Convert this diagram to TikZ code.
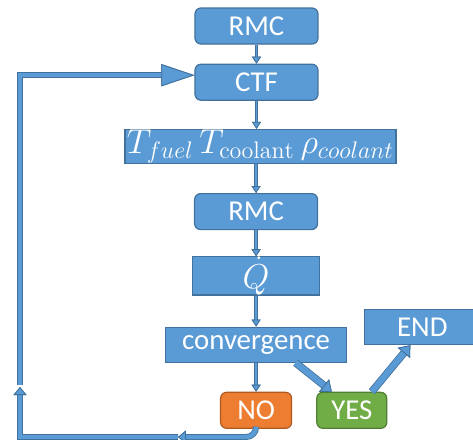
\documentclass[tikz,border=0pt]{standalone}
\usepackage{fontspec}
\setmainfont{Carlito}
\setmathrm{Latin Modern Roman}
\usepackage{tikz}
\usetikzlibrary{arrows.meta, positioning}
\definecolor{flowblue}{HTML}{5B9BD5}
\definecolor{edgeblue}{HTML}{41719C}
\definecolor{noorange}{HTML}{ED7D31}
\definecolor{noedge}{HTML}{AE5A21}
\definecolor{yesgreen}{HTML}{70AD47}
\definecolor{yesedge}{HTML}{507E32}
\tikzset{
  box/.style={rectangle, draw=edgeblue, fill=flowblue, text=white, align=center, minimum height=17.5pt, font=\Large, inner sep=1pt, line width=0.6pt},
  roundbox/.style={box, rounded corners=3pt, minimum height=18pt},
  nobox/.style={roundbox, draw=noedge, fill=noorange},
  yesbox/.style={roundbox, draw=yesedge, fill=yesgreen},
  arrow/.style={draw=flowblue, line width=0.9pt, -{Triangle[length=3.5pt, width=4.5pt, color=edgeblue, fill=flowblue, line width=0.4pt]},
    preaction={draw=edgeblue, line width=1.7pt, -{Triangle[length=3.5pt, width=4.5pt, color=edgeblue, fill=flowblue, line width=0.4pt]}}},
  fatarrow/.style={draw=flowblue, line width=3pt, -{Triangle[length=5pt, width=8pt, color=edgeblue, fill=flowblue, line width=0.4pt]},
    preaction={draw=edgeblue, line width=3.8pt, -{Triangle[length=5pt, width=8pt, color=edgeblue, fill=flowblue, line width=0.4pt]}}},
  looparrow/.style={draw=flowblue, line width=2.2pt, -{Triangle[length=4pt, width=6.5pt, color=edgeblue, fill=flowblue, line width=0.4pt]},
    preaction={draw=edgeblue, line width=3pt, -{Triangle[length=4pt, width=6.5pt, color=edgeblue, fill=flowblue, line width=0.4pt]}}},
  bigarrow/.style={draw=flowblue, line width=2.2pt, -{Triangle[length=16.5pt, width=11pt, color=edgeblue, fill=flowblue, line width=0.4pt]},
    preaction={draw=edgeblue, line width=3pt, -{Triangle[length=16.5pt, width=11pt, color=edgeblue, fill=flowblue, line width=0.4pt]}}},
}
\begin{document}
\begin{tikzpicture}[x=0.5pt, y=-0.5pt]
  \useasboundingbox (0,0) rectangle (473,440);
  \node[roundbox, minimum width=61.5pt] (rmc) at (256.5,26) {RMC};
  \node[roundbox, minimum width=61.5pt, below=9.5pt of rmc] (ctf) {CTF};
  \node[box, minimum width=132pt, minimum height=17pt, font=\LARGE, inner ysep=0pt, below=14pt of ctf, xshift=2pt] (fields) {$T_{fuel}\,T_{\mathrm{coolant}}\,\rho_{coolant}$};
  \node[roundbox, minimum width=61.5pt, below=14.5pt of fields, xshift=-2.2pt] (rmcb) {RMC};
  \node[box, minimum width=63.5pt, font=\LARGE, inner ysep=0pt, below=13pt of rmcb] (qdot) {$\dot{Q}$};
  \node[box, minimum width=90.5pt, below=15.5pt of qdot] (conv) {convergence};
  \node[box, minimum width=57.5pt, right=8.5pt of conv, yshift=8.75pt] (end) {END};
  \node[nobox, minimum width=35.5pt, below=14.5pt of conv] (no) {NO};
  \node[yesbox, minimum width=35pt, right=12pt of no] (yes) {YES};
  \coordinate (lefttip) at (178,437);
  \coordinate (corner) at (20,437);
  \coordinate (uptip) at (20,387);
  \coordinate (upstart) at (20,385);
  \draw[arrow] (rmc) -- (ctf);
  \draw[arrow] (ctf) -- (ctf |- fields.north);
  \draw[arrow] (fields.south -| rmcb) -- (rmcb);
  \draw[arrow] (rmcb) -- (qdot);
  \draw[arrow] (qdot) -- (conv);
  \draw[arrow] (conv) -- (no);
  \draw[fatarrow] ([xshift=19.75pt]conv.south) -- ([xshift=-10pt]yes.north);
  \draw[fatarrow] ([xshift=10pt]yes.north) -- ([xshift=-6pt]end.south);
  \draw[looparrow, rounded corners=5pt] (no.south) |- (lefttip);
  \draw[looparrow] (lefttip) -- (corner) -- (uptip);
  \draw[bigarrow] (upstart) |- ([yshift=3.5pt]ctf.west);
\end{tikzpicture}
\end{document}
